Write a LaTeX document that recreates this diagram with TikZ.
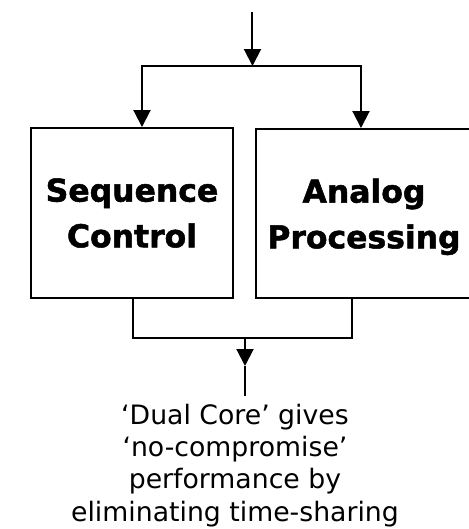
\documentclass[tikz,border=0pt]{standalone}
\usepackage{fontspec}
\setmainfont{DejaVu Sans}[BoldFeatures={FakeBold=1.6}]
\usepackage{xcolor}
\usepackage{tikz}
\usetikzlibrary{arrows.meta}
\usetikzlibrary{calc}
\usetikzlibrary{positioning}
\tikzset{
  corebox/.style={draw=black,line width=0.04cm,align=center,inner sep=0pt,
    font=\bfseries\fontsize{17.9pt}{26pt}\selectfont},
  wire/.style={black,line width=0.04cm},
  feed/.style={wire,-{Triangle[length=0.34cm,width=0.34cm]}},
  note/.style={align=center,inner sep=0pt,font=\fontsize{15.2pt}{18.3pt}\selectfont}
}

\begin{document}
\begin{tikzpicture}[x=0.02cm,y=-0.02cm]
\useasboundingbox (0,0) rectangle (468,529);
% the two cores
\node[corebox,minimum width=4.04cm,minimum height=3.4cm] (seq) at (132,213) {Sequence\\Control};
\node[corebox,minimum width=4.32cm,minimum height=3.38cm] (ana) at (364,213.5) {Analog\\\smash{Processing}};
\node[note,anchor=north] (gain) at (235,404) {‘Dual Core’ gives\\‘no-compromise’\\performance by\\eliminating time-sharing};
% input and split
\coordinate (in) at (252.5,12);
\coordinate (split) at (252.5,66);
\draw[feed] (in) -- (split);
\draw[feed] (split) -| ($(seq.north)+(10,0)$);
\draw[feed] (split) -| ($(ana.north)+(-3,0)$);
% merge and output
\coordinate (merge) at (245,338);
\coordinate (mid) at (245,366);
\coordinate (out) at (245,396);
\draw[wire] ($(seq.south)+(1,0)$) |- (merge);
\draw[wire] ($(ana.south)+(-12,0)$) |- (merge);
\draw[feed] (merge) -- (mid);
\draw[wire] (mid) -- (out);
\end{tikzpicture}
\end{document}
